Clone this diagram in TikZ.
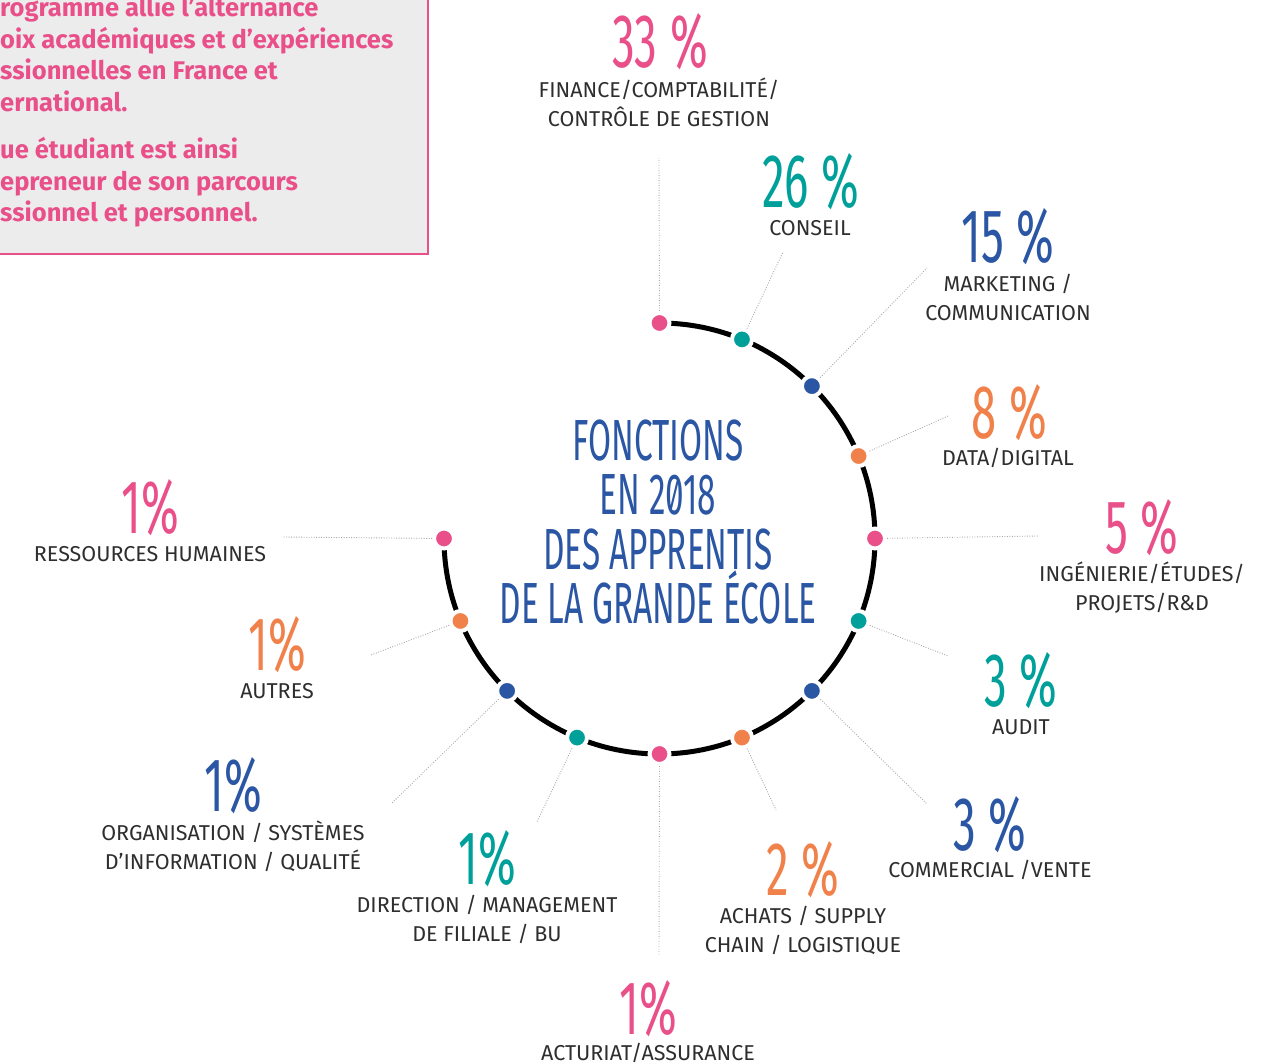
\documentclass[tikz,border=0pt]{standalone}
\usepackage{fontspec}
\usetikzlibrary{calc}
\setmainfont{Fira Sans}
\newfontfamily\pctfont[FakeStretch=0.6]{Fira Sans}
\newfontfamily\ttlfont[FakeStretch=0.575,Ligatures=NoCommon,RawFeature=+zero]{Fira Sans}
\definecolor{cpink}{HTML}{E9508A}
\definecolor{cteal}{HTML}{00A09A}
\definecolor{cblue}{HTML}{2A56A4}
\definecolor{corange}{HTML}{F0814A}
\definecolor{labgray}{HTML}{2E2E2E}
\definecolor{conngray}{HTML}{A8A8A8}
\definecolor{boxgray}{HTML}{ECECEC}
\tikzset{
  pct/.style={font=\pctfont\fontsize{76}{76}\selectfont, inner sep=0pt, anchor=center, text height=52pt, text depth=0pt},
  lab/.style={font=\fontsize{21.5}{29}\selectfont, text=labgray, align=center, inner sep=0pt},
  dot/.style={circle, inner sep=0pt, minimum size=20pt, draw=white, line width=4pt},
  conn/.style={draw=conngray, line width=0.9pt, dash pattern=on 0.9pt off 1.6pt},
  boxtxt/.style={font=\bfseries\fontsize{25.5}{25.5}\selectfont, text=cpink, anchor=base west, inner sep=0pt},
  ttl/.style={font=\ttlfont\fontsize{58}{54.5}\selectfont, text=cblue, align=center, inner sep=0pt}
}
\begin{document}
\begin{tikzpicture}[x=1pt,y=-1pt]
\useasboundingbox (0,0) rectangle (1279,1064);
% intro box
\draw[cpink, line width=1.5pt, fill=boxgray] (-6,-6) rectangle (428,254);
\node[boxtxt] (b1) at (0,17) {rogramme allie l’alternance};
\node[boxtxt] (b2) at (0,48.5) {oix académiques et d’expériences};
\node[boxtxt] (b3) at (0,80) {ssionnelles en France et};
\node[boxtxt] (b4) at (0,111.5) {ernational.};
\node[boxtxt] (b5) at (0,159) {ue étudiant est ainsi};
\node[boxtxt] (b6) at (0,190.5) {epreneur de son parcours};
\node[boxtxt] (b7) at (0,222) {ssionnel et personnel.};
% ring
\coordinate (c) at (659.5,538.5);
\draw[line width=5pt, black] (c) ++(-90:215.5) arc[start angle=-90, end angle=180, radius=215.5];
% title
\node[ttl] (title) at (658,522) {FONCTIONS\\EN 2018\\DES APPRENTIS\\DE LA GRANDE ÉCOLE};
% dots
\foreach \i/\col in {0/cpink,1/cteal,2/cblue,3/corange,4/cpink,5/cteal,6/cblue,7/corange,8/cpink,9/cteal,10/cblue,11/corange,12/cpink}{
  \node[dot, fill=\col] (d\i) at ($(c)+({-90+22.5*\i}:215.5)$) {};
}
% connector ends
\coordinate (e0) at (659,158);
\coordinate (e1) at (783,252);
\coordinate (e2) at (927,268);
\coordinate (e3) at (948,416);
\coordinate (e4) at (1038,536);
\coordinate (e5) at (948,656);
\coordinate (e6) at (927,804);
\coordinate (e7) at (776,810);
\coordinate (e8) at (659,955);
\coordinate (e9) at (537,822);
\coordinate (e10) at (392,803);
\coordinate (e11) at (371,655);
\coordinate (e12) at (282,537);
\foreach \i in {0,...,12}{ \draw[conn] (d\i) -- (e\i); }
% percentages and labels
\node[pct, text=cpink] (p0) at (660,42) {33\,\%};
\node[lab] (l0) at (659,102.5) {FINANCE/COMPTABILITÉ/\\CONTRÔLE DE GESTION};
\node[pct, text=cteal] (p1) at (811,182) {26\,\%};
\node[lab] (l1) at (810,228) {CONSEIL};
\node[pct, text=cblue] (p2) at (1008,237) {15\,\%};
\node[lab] (l2) at (1008,297.5) {MARKETING /\\COMMUNICATION};
\node[pct, text=corange] (p3) at (1009,412) {8\,\%};
\node[lab] (l3) at (1008,458) {DATA/DIGITAL};
\node[pct, text=cpink] (p4) at (1142,527) {5\,\%};
\node[lab] (l4) at (1142,587.5) {INGÉNIERIE/ÉTUDES/\\PROJETS/R\&D};
\node[pct, text=cteal] (p5) at (1021,680) {3\,\%};
\node[lab] (l5) at (1021,727) {AUDIT};
\node[pct, text=cblue] (p6) at (990,824) {3\,\%};
\node[lab] (l6) at (990,870) {COMMERCIAL /VENTE};
\node[pct, text=corange] (p7) at (803,869) {2\,\%};
\node[lab] (l7) at (803,930.5) {ACHATS / SUPPLY\\CHAIN / LOGISTIQUE};
\node[pct, text=cpink] (p8) at (648,1008) {1\%};
\node[lab] (l8) at (648,1053) {ACTURIAT/ASSURANCE};
\node[pct, text=cteal] (p9) at (487,858) {1\%};
\node[lab] (l9) at (487,919.5) {DIRECTION / MANAGEMENT\\DE FILIALE / BU};
\node[pct, text=cblue] (p10) at (233,785) {1\%};
\node[lab] (l10) at (233,846.5) {ORGANISATION / SYSTÈMES\\D’INFORMATION / QUALITÉ};
\node[pct, text=corange] (p11) at (277,644) {1\%};
\node[lab] (l11) at (277,691) {AUTRES};
\node[pct, text=cpink] (p12) at (150,507) {1\%};
\node[lab] (l12) at (150,554) {RESSOURCES HUMAINES};
\end{tikzpicture}
\end{document}
